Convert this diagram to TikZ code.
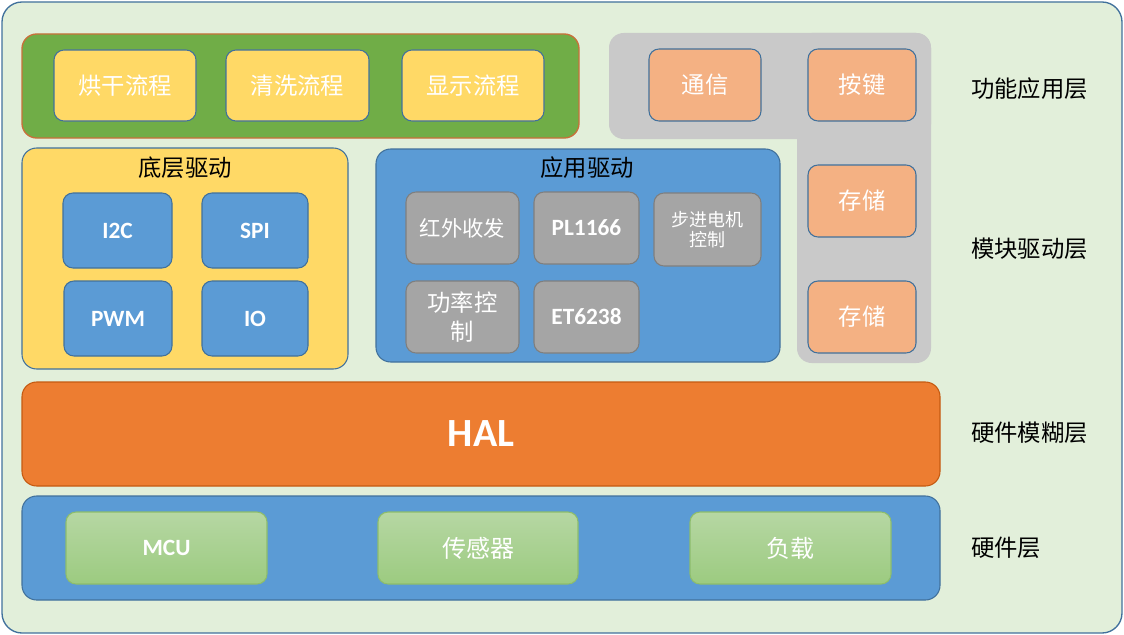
\documentclass[tikz,border=0pt]{standalone}
\usepackage{fontspec}
\setmainfont{Carlito}
\newfontfamily\cjk{Noto Sans CJK SC}
\definecolor{bgc}{HTML}{E2EFDA}
\definecolor{bdblue}{HTML}{41719C}
\definecolor{grn}{HTML}{70AD47}
\definecolor{grnbd}{HTML}{C8703A}
\definecolor{ylw}{HTML}{FFD966}
\definecolor{blu}{HTML}{5B9BD5}
\definecolor{gry}{HTML}{A5A5A5}
\definecolor{grybd}{HTML}{7F7F7F}
\definecolor{lgry}{HTML}{C9C9C9}
\definecolor{org}{HTML}{F4B183}
\definecolor{hal}{HTML}{ED7D31}
\definecolor{halbd}{HTML}{C55A11}
\definecolor{hwtop}{HTML}{B6D7A3}
\definecolor{hwbot}{HTML}{9CCB80}
\newcommand\bx[7]{\node[#6, minimum width={(#4-#2)*0.75pt}, minimum height={(#5-#3)*0.75pt}] (#1) at ({(#2+#4)/2},{(#3+#5)/2}) {#7};}
\begin{document}
\begin{tikzpicture}[x=0.75pt,y=-0.75pt,
  box/.style={draw, line width=0.8pt, rounded corners=7.5pt, inner sep=0pt, outer sep=0pt, align=center},
  bigbox/.style={box, rounded corners=11pt},
  zhw/.style={font=\cjk\fontsize{17.5}{21}\selectfont, text=white},
  zhk/.style={font=\cjk\fontsize{17.5}{21}\selectfont, text=black},
  enw/.style={font=\bfseries\fontsize{17.5}{21}\selectfont, text=white},
  yel/.style={box, fill=ylw, draw=bdblue},
  blb/.style={box, fill=blu, draw=bdblue},
  gyb/.style={box, fill=gry, draw=grybd},
  orb/.style={box, fill=org, draw=bdblue},
  hwb/.style={box, top color=hwtop, bottom color=hwbot, draw=grn!80!white},
  lbl/.style={zhk, anchor=west, inner sep=0pt}]
\useasboundingbox (0,0) rectangle (1124,635);
\bx{outer}{2}{2}{1122}{633}{bigbox, rounded corners=15pt, fill=bgc, draw=bdblue, line width=1pt}{}
% function application layer
\bx{flow}{22}{34}{579}{138}{bigbox, fill=grn, draw=grnbd, line width=1pt}{}
\bx{dry}{54}{50}{196}{121}{yel, zhw}{烘干流程}
\bx{wash}{226}{50}{369}{121}{yel, zhw}{清洗流程}
\bx{disp}{402}{50}{544}{121}{yel, zhw}{显示流程}
% gray L shape
\fill[lgry, rounded corners=11pt] (609,33) rectangle (931,139);
\fill[lgry, rounded corners=11pt] (797,33) rectangle (931,363);
\bx{comm}{649}{49}{761}{121}{orb, zhw}{通信}
\bx{key}{808}{49}{916}{121}{orb, zhw}{按键}
\bx{st1}{808}{165}{916}{237}{orb, zhw}{存储}
\bx{st2}{808}{281}{916}{353}{orb, zhw}{存储}
% low-level drivers
\bx{low}{22}{148}{348}{369}{bigbox, fill=ylw, draw=bdblue}{}
\node[zhk] (lowt) at (185,168) {底层驱动};
\bx{i2c}{63}{193}{172}{268}{blb, enw}{I2C}
\bx{spi}{202}{193}{308}{268}{blb, enw}{SPI}
\bx{pwm}{64}{281}{172}{356}{blb, enw}{PWM}
\bx{io}{202}{281}{308}{356}{blb, enw}{IO}
% application drivers
\bx{app}{376}{149}{780}{362}{bigbox, fill=blu, draw=bdblue}{}
\node[zhk] (appt) at (587,168) {应用驱动};
\bx{ir}{406}{192}{519}{264}{gyb, zhw, font=\cjk\fontsize{16}{20}\selectfont}{红外收发}
\bx{pl}{534}{192}{639}{264}{gyb, enw}{PL1166}
\bx{step}{654}{193}{761}{266}{gyb, zhw, font=\cjk\fontsize{13.5}{15.5}\selectfont}{步进电机\\控制}
\bx{pow}{406}{281}{519}{353}{gyb, zhw, font=\cjk\fontsize{17.5}{21.5}\selectfont}{功率控\\制}
\bx{et}{534}{281}{639}{353}{gyb, enw}{ET6238}
% HAL
\bx{hal}{22}{382}{940}{486}{bigbox, fill=hal, draw=halbd, text=white, font=\bfseries\fontsize{30}{36}\selectfont}{HAL}
% hardware
\bx{hw}{22}{496}{940}{600}{bigbox, fill=blu, draw=bdblue}{}
\bx{mcu}{66}{512}{267}{584}{hwb, enw}{MCU}
\bx{sens}{378}{512}{578}{584}{hwb, zhw, font=\cjk\fontsize{18}{22}\selectfont}{传感器}
\bx{load}{690}{512}{891}{584}{hwb, zhw, font=\cjk\fontsize{18}{22}\selectfont}{负载}
% layer labels
\node[lbl] (l1) at (971,89) {功能应用层};
\node[lbl] (l2) at (971,249) {模块驱动层};
\node[lbl] (l3) at (971,433) {硬件模糊层};
\node[lbl] (l4) at (971,548) {硬件层};
\end{tikzpicture}
\end{document}
